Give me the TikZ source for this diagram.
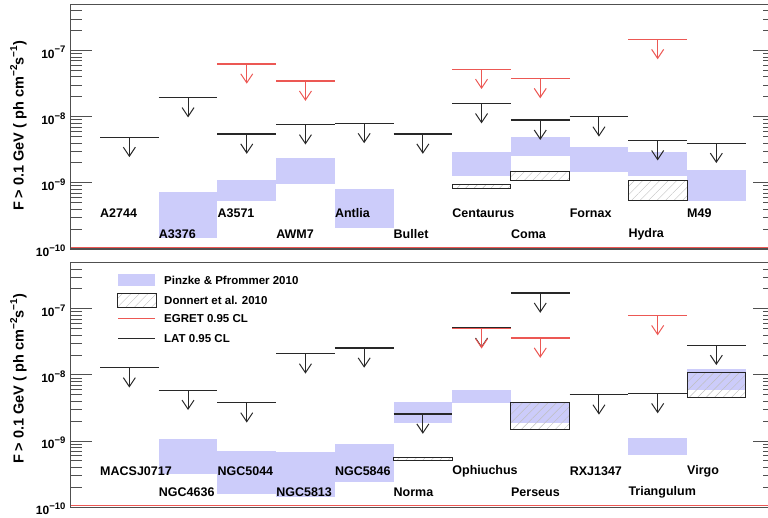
\documentclass[tikz,border=0pt]{standalone}
\usepackage{fontspec}
\setmainfont{Liberation Sans}
\usetikzlibrary{arrows.meta,patterns.meta}

\definecolor{pinzke}{RGB}{204,204,250}
\definecolor{egret}{RGB}{236,88,84}
\definecolor{latgray}{RGB}{40,40,40}
\definecolor{framegray}{RGB}{80,80,80}

\newcommand{\expo}[2][9.5]{\raisebox{0.45em}{\fontsize{#1}{#1}\selectfont #2}}

\begin{document}
\begin{tikzpicture}[x=1pt, y=1pt,
    >={Straight Barb[length=9pt,width=12pt]},
    frameline/.style={line width=1.3pt, framegray},
    tickline/.style={line width=1pt, framegray},
    latline/.style={line width=1.3pt, latgray},
    latarrow/.style={line width=1pt, latgray, ->},
    egretline/.style={line width=1.3pt, egret},
    egretarrow/.style={line width=1pt, egret, ->},
    donnert/.style={line width=1pt, black!85, pattern={Lines[angle=45,distance=6pt,line width=0.4pt]}, pattern color=black!25},
    clname/.style={font=\fontsize{12.5}{14}\selectfont\bfseries, anchor=west, inner sep=0pt},
    ticklabel/.style={font=\fontsize{12}{13}\selectfont\bfseries, anchor=east, inner sep=0pt},
    legtext/.style={font=\fontsize{11.5}{13}\selectfont\bfseries, anchor=west, inner sep=0pt},
    ytitle/.style={font=\fontsize{14.5}{16}\selectfont\bfseries, rotate=90, inner sep=0pt}]
	\clip (0,0) rectangle (768,518);

	% Bausteine fuer eine Spalte
	\def\band#1#2#3{\fill[pinzke] (#1-0.5,#2) rectangle (#1+0.5,#3);}
	\def\donnertbox#1#2#3{\draw[donnert] (#1-0.5,#2) rectangle (#1+0.5,#3);}
	\def\latlim#1#2{\draw[latline] (#1-0.5,#2) -- (#1+0.5,#2);
		\draw[latarrow] (#1,#2) -- (#1,#2-0.3);}
	\def\egretlim#1#2{\draw[egretline] (#1-0.5,#2) -- (#1+0.5,#2);
		\draw[egretarrow] (#1,#2) -- (#1,#2-0.3);}
	\def\clusterlabel#1#2#3{\node[clname] (#3) at (#1-0.5,#2) {#3};}

	% Rahmen, Ticks und Beschriftung der log-Achse
	\def\panelaxes{
		\draw[frameline] (0,0) rectangle (12,3.699);
		\draw[egret, line width=1.2pt] (0,0.028) -- (12,0.028);
		\foreach \d/\e in {0/10,1/9,2/8,3/7} {
			\draw[tickline] (0,\d) -- ++(21.7pt,0);
			\draw[tickline] (12,\d) -- ++(-21.7pt,0);
			\node[ticklabel] at (-0.085,\d-0.025) {10\expo{−\e}};
		}
		\foreach \d in {0,1,2,3} {
			\foreach \k in {2,...,9} {
				\pgfmathsetmacro\yy{\d+log10(\k)}
				\ifdim\yy pt<3.69pt
					\draw[tickline] (0,\yy) -- ++(11.7pt,0);
					\draw[tickline] (12,\yy) -- ++(-11.7pt,0);
				\fi
			}
		}
	}

	% Oberes Panel
	\begin{scope}[shift={(70.65pt,269pt)}, x=58.7pt, y=66.1pt]
		% Pinzke & Pfrommer
		\band{2}{0.17}{0.86}
		\band{3}{0.72}{1.04}
		\band{4}{0.98}{1.38}
		\band{5}{0.32}{0.91}
		\band{7}{1.11}{1.47}
		\band{8}{1.41}{1.69}
		\band{9}{1.16}{1.55}
		\band{10}{1.11}{1.47}
		\band{11}{0.73}{1.20}
		% Donnert et al.
		\donnertbox{7}{0.92}{0.98}
		\donnertbox{8}{1.03}{1.17}
		\donnertbox{10}{0.73}{1.03}
		% EGRET
		\egretlim{3}{2.80}
		\egretlim{4}{2.54}
		\egretlim{7}{2.72}
		\egretlim{8}{2.58}
		\egretlim{10}{3.17}
		% LAT
		\latlim{1}{1.69}
		\latlim{2}{2.29}
		\latlim{3}{1.74}
		\latlim{4}{1.88}
		\latlim{5}{1.90}
		\latlim{6}{1.74}
		\latlim{7}{2.20}
		\latlim{8}{1.95}
		\latlim{9}{2.00}
		\latlim{10}{1.64}
		\latlim{11}{1.60}
		% Namen
		\clusterlabel{1}{0.54}{A2744}
		\clusterlabel{2}{0.22}{A3376}
		\clusterlabel{3}{0.54}{A3571}
		\clusterlabel{4}{0.22}{AWM7}
		\clusterlabel{5}{0.54}{Antlia}
		\clusterlabel{6}{0.22}{Bullet}
		\clusterlabel{7}{0.54}{Centaurus}
		\clusterlabel{8}{0.22}{Coma}
		\clusterlabel{9}{0.54}{Fornax}
		\clusterlabel{10}{0.22}{Hydra}
		\clusterlabel{11}{0.54}{M49}
		\panelaxes
	\end{scope}

	% Unteres Panel
	\begin{scope}[shift={(70.65pt,10.8pt)}, x=58.7pt, y=66.1pt]
		% Pinzke & Pfrommer
		\band{2}{0.50}{1.03}
		\band{3}{0.20}{0.85}
		\band{4}{0.16}{0.83}
		\band{5}{0.38}{0.96}
		\band{6}{1.27}{1.59}
		\band{7}{1.57}{1.78}
		\band{8}{1.28}{1.58}
		\band{10}{0.79}{1.05}
		\band{11}{1.77}{2.09}
		% Donnert et al.
		\donnertbox{6}{0.70}{0.75}
		\donnertbox{8}{1.18}{1.58}
		\donnertbox{11}{1.66}{2.04}
		% LAT
		\latlim{1}{2.11}
		\latlim{2}{1.77}
		\latlim{3}{1.58}
		\latlim{4}{2.32}
		\latlim{5}{2.41}
		\latlim{6}{1.41}
		\latlim{7}{2.71}
		\latlim{8}{3.24}
		\latlim{9}{1.70}
		\latlim{10}{1.72}
		\latlim{11}{2.45}
		% EGRET
		\egretlim{7}{2.70}
		\egretlim{8}{2.56}
		\egretlim{10}{2.90}
		% Namen
		\clusterlabel{1}{0.54}{MACSJ0717}
		\clusterlabel{2}{0.23}{NGC4636}
		\clusterlabel{3}{0.54}{NGC5044}
		\clusterlabel{4}{0.23}{NGC5813}
		\clusterlabel{5}{0.54}{NGC5846}
		\clusterlabel{6}{0.23}{Norma}
		\clusterlabel{7}{0.54}{Ophiuchus}
		\clusterlabel{8}{0.23}{Perseus}
		\clusterlabel{9}{0.54}{RXJ1347}
		\clusterlabel{10}{0.23}{Triangulum}
		\clusterlabel{11}{0.54}{Virgo}
		\panelaxes
	\end{scope}

	% Legende
	\fill[pinzke] (118,232) rectangle (155,244.3);
	\node[legtext] (legPinzke) at (164,238) {Pinzke \& Pfrommer 2010};
	\draw[donnert] (117,210.5) rectangle (156,224);
	\node[legtext] (legDonnert) at (164,217.5) {Donnert et al. 2010};
	\draw[egretline] (118,199.5) -- (155,199.5);
	\node[legtext] (legEgret) at (164,199.5) {EGRET 0.95 CL};
	\draw[latline, line width=1pt] (118,179) -- (155,179);
	\node[legtext] (legLat) at (164,179) {LAT 0.95 CL};

	% Achsentitel
	\node[ytitle] (titleTop) at (18.5,392) {F > 0.1 GeV ( ph cm\expo[10]{−2}s\expo[10]{−1})};
	\node[ytitle] (titleBottom) at (18.5,139) {F > 0.1 GeV ( ph cm\expo[10]{−2}s\expo[10]{−1})};
\end{tikzpicture}
\end{document}
